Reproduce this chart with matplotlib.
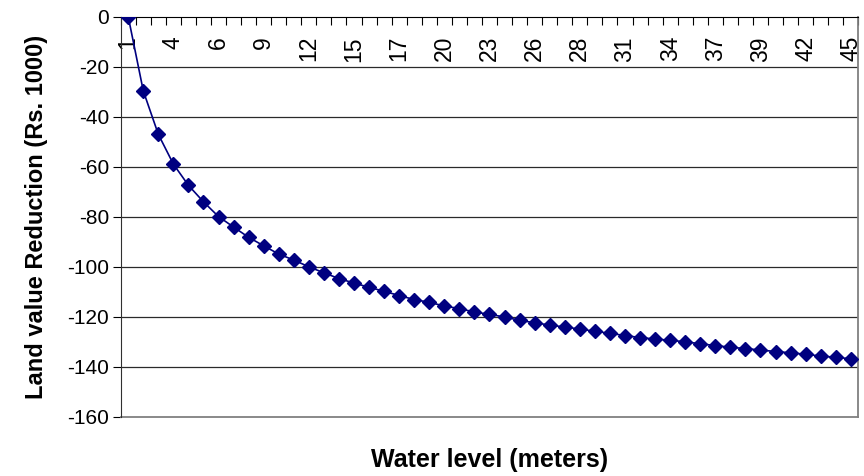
import matplotlib.pyplot as plt
import numpy as np

plt.rcParams['font.family'] = ['Liberation Sans', 'DejaVu Sans']
plt.rcParams['axes.unicode_minus'] = False

# Etichette asse X (una ogni 3 categorie) e valori della curva
water_level_labels = ['1', '4', '6', '9', '12', '15', '17', '20', '23', '26', '28',
                      '31', '34', '37', '39', '42', '45']
land_value_reduction = [
    0, -29.7, -47.1, -59.0, -67.5, -74.1, -80.0, -84.2, -88.3, -91.7,
    -95.0, -97.4, -100.1, -102.5, -104.8, -106.6, -108.3, -109.9, -111.6, -113.2,
    -114.3, -115.8, -116.8, -118.2, -119.1, -120.2, -121.5, -122.5, -123.4, -124.2,
    -125.0, -125.9, -126.7, -127.6, -128.4, -129.0, -129.5, -130.1, -130.9, -131.6,
    -132.3, -132.8, -133.4, -134.0, -134.5, -135.1, -135.8, -136.3, -136.9,
]
y_ticks = [0, -20, -40, -60, -80, -100, -120, -140, -160]

fig = plt.figure(figsize=(8.64, 4.76), dpi=100)
ax = fig.add_axes([0.1397, 0.125, 0.8537, 0.840])

x = np.arange(len(land_value_reduction))
ax.plot(x, land_value_reduction, color='#000080', linewidth=1.2,
        marker='D', markersize=6.8, markeredgecolor='#000080', zorder=3)

ax.set_xlim(-0.5, len(x) - 0.5)
ax.set_ylim(-160, 0)

# asse X in cima (a y=0), etichette sotto la linea
ax.spines['bottom'].set_position(('data', 0))
ax.spines['bottom'].set_color('black')
ax.spines['top'].set_visible(False)
ax.spines['right'].set_color('#808080')
ax.spines['right'].set_linewidth(1.3)
ax.spines['left'].set_color('#303030')
ax.axhline(-160, color='#808080', linewidth=1.3, clip_on=False, zorder=2)

ax.set_xticks(x[::3])
ax.set_xticklabels(water_level_labels, rotation=90, fontsize=16.5)
ax.set_xticks(np.arange(-0.5, len(x), 1), minor=True)
ax.tick_params(axis='x', which='major', length=0, pad=14)
ax.tick_params(axis='x', which='minor', direction='out', length=5.5, width=0.8)

ax.set_yticks(y_ticks)
ax.set_yticklabels([str(v) for v in y_ticks], fontsize=15)
ax.tick_params(axis='y', direction='out', length=5.5, width=0.8, pad=3)

for v in y_ticks[1:-1]:
    ax.axhline(v, color='#2a2a2a', linewidth=0.9, zorder=1)

ax.set_ylabel('Land value Reduction (Rs. 1000)', fontsize=17, fontweight='bold')
ax.yaxis.set_label_coords(-0.099, 0.5)
ax.set_xlabel('Water level (meters)', fontsize=18, fontweight='bold')
ax.xaxis.set_label_coords(0.5, -0.078)

fig.savefig('out.png', dpi=100)
